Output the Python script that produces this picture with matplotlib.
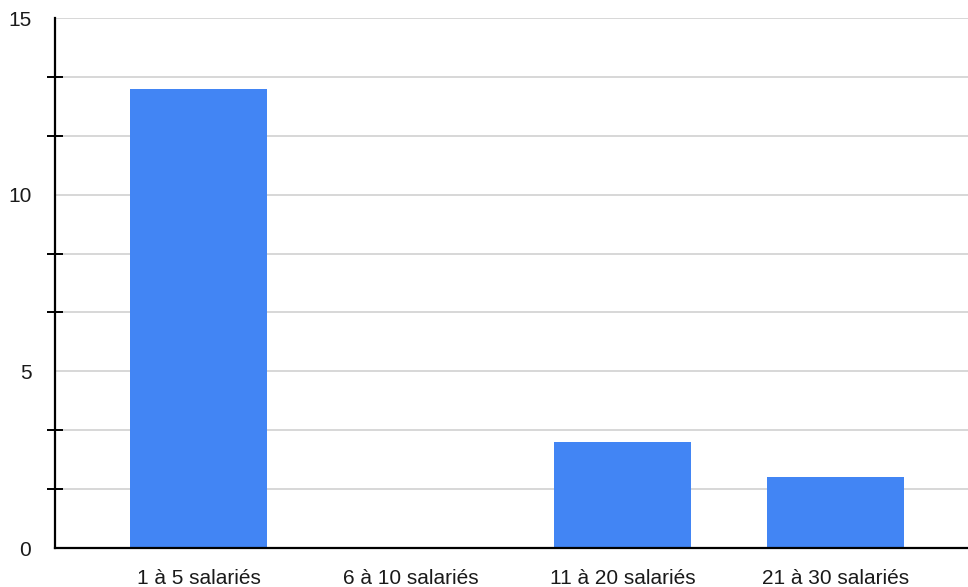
import numpy as np
import matplotlib.pyplot as plt

categories = ["1 à 5 salariés", "6 à 10 salariés", "11 à 20 salariés", "21 à 30 salariés"]
counts = [13, 0, 3, 2]
major_ticks = [0, 5, 10, 15]
minor_ticks = [5/3, 10/3, 20/3, 25/3, 35/3, 40/3]

plt.rcParams['font.family'] = ['Liberation Sans', 'DejaVu Sans']

fig = plt.figure(figsize=(9.68, 5.87), dpi=100)
ax = fig.add_axes([0.0568, 0.0664, 0.9432, 0.9029])

x = np.arange(len(categories))
ax.bar(x, counts, width=0.646, color="#4285f4", zorder=3)

ax.set_xlim(-0.676, 3.626)
ax.set_ylim(0, 15)
ax.set_xticks(x)
ax.set_xticklabels(categories)
ax.set_yticks(major_ticks)
ax.set_yticklabels([str(v) for v in major_ticks])
ax.set_yticks(minor_ticks, minor=True)

ax.grid(axis="y", which="both", color="#d4d4d4", linewidth=1.3, zorder=0)
ax.tick_params(axis="x", length=0, pad=15, labelsize=15, colors="#1a1a1a")
ax.tick_params(axis="y", which="major", length=0, pad=17, labelsize=15, colors="#1a1a1a")
ax.tick_params(axis="y", which="minor", direction="inout", length=11, width=1.4, color="black")

for side in ["top", "right"]:
    ax.spines[side].set_visible(False)
for side in ["left", "bottom"]:
    ax.spines[side].set_linewidth(1.6)
    ax.spines[side].set_zorder(4)

fig.savefig("out.png", dpi=100)
